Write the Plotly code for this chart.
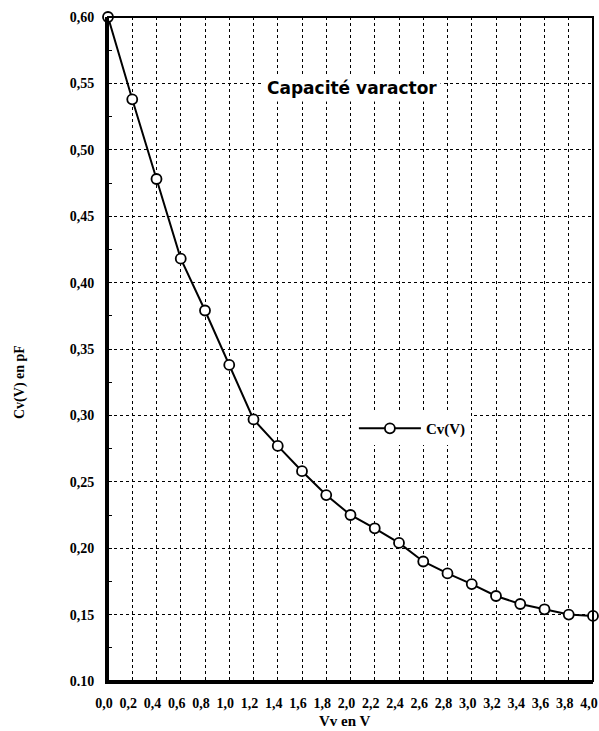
import plotly.graph_objects as go

vv = [0.0, 0.2, 0.4, 0.6, 0.8, 1.0, 1.2, 1.4, 1.6, 1.8, 2.0, 2.2, 2.4, 2.6, 2.8, 3.0, 3.2, 3.4, 3.6, 3.8, 4.0]
cv = [0.600, 0.538, 0.478, 0.418, 0.379, 0.338, 0.297, 0.277, 0.258, 0.240, 0.225, 0.215, 0.204, 0.190, 0.181, 0.173, 0.164, 0.158, 0.154, 0.150, 0.149]

x_tickvals = [round(0.2 * i, 1) for i in range(21)]
x_ticktext = ["0,0", "0,2", "0,4", "0,6", "0,8", "1,0", "1,2", "1,4", "1,6", "1,8", "2,0",
              "2,2", "2,4", "2,6", "2,8", "3,0", "3,2", "3,4", "3,6", "3,8", "4,0"]
y_tickvals = [0.10, 0.15, 0.20, 0.25, 0.30, 0.35, 0.40, 0.45, 0.50, 0.55, 0.60]
y_ticktext = ["0.10", "0,15", "0,20", "0,25", "0,30", "0,35", "0,40", "0,45", "0,50", "0,55", "0,60"]

serif = "Liberation Serif"

fig = go.Figure()
fig.add_trace(go.Scatter(
    x=vv, y=cv, mode="lines+markers", name="Cv(V)",
    line=dict(color="black", width=2),
    marker=dict(symbol="circle", size=10, color="white", line=dict(color="black", width=1.8)),
    cliponaxis=False,
))

fig.update_layout(
    width=599, height=731,
    margin=dict(l=108, r=6, t=17, b=50, autoexpand=False),
    paper_bgcolor="white", plot_bgcolor="white",
    showlegend=True,
    legend=dict(
        x=0.507, y=0.405, xanchor="left", yanchor="top",
        bgcolor="white", borderwidth=0,
        font=dict(family=serif, size=15, color="black", weight="bold"),
        itemwidth=62,
    ),
    xaxis=dict(
        range=[0, 4.0], tickvals=x_tickvals, ticktext=x_ticktext,
        showgrid=True, gridcolor="black", griddash="dot", gridwidth=1,
        showline=True, linecolor="black", linewidth=3,
        ticks="", ticklabelstandoff=7, ticklabeloverflow="allow", ticklabelshift=-4,
        tickfont=dict(family=serif, size=14, color="black", weight="bold"),
        zeroline=False, automargin=False,
    ),
    yaxis=dict(
        range=[0.10, 0.60], tickvals=y_tickvals, ticktext=y_ticktext,
        showgrid=True, gridcolor="black", griddash="dot", gridwidth=1,
        showline=True, linecolor="black", linewidth=3,
        ticks="", ticklabelstandoff=8,
        tickfont=dict(family=serif, size=14, color="black", weight="bold"),
        zeroline=False, automargin=False,
        minor=dict(ticks="inside", ticklen=4, dtick=0.025, tickcolor="black", showgrid=False),
    ),
    shapes=[dict(type="rect", xref="paper", yref="paper", x0=0, y0=0, x1=1, y1=1,
                 line=dict(color="black", width=2), layer="above")],
    annotations=[
        dict(text="Capacité varactor", xref="paper", yref="paper", x=0.503, y=0.914,
             showarrow=False, bgcolor="white", borderpad=3,
             font=dict(family="DejaVu Sans", size=17, color="black", weight="bold")),
        dict(text="Vv en V", xref="paper", yref="paper", x=(345 - 108) / 485, y=-(721 - 681) / 664,
             showarrow=False, xanchor="center", yanchor="middle",
             font=dict(family=serif, size=15, color="black", weight="bold")),
        dict(text="Cv(V) en pF", xref="paper", yref="paper", x=(20 - 108) / 485, y=(681 - 382) / 664,
             showarrow=False, textangle=-90, xanchor="center", yanchor="middle",
             font=dict(family=serif, size=14, color="black", weight="bold")),
    ],
)

fig.write_html("out.html", config={"displayModeBar": False},
               post_script="document.body.style.margin='0';document.body.style.overflow='hidden';")
